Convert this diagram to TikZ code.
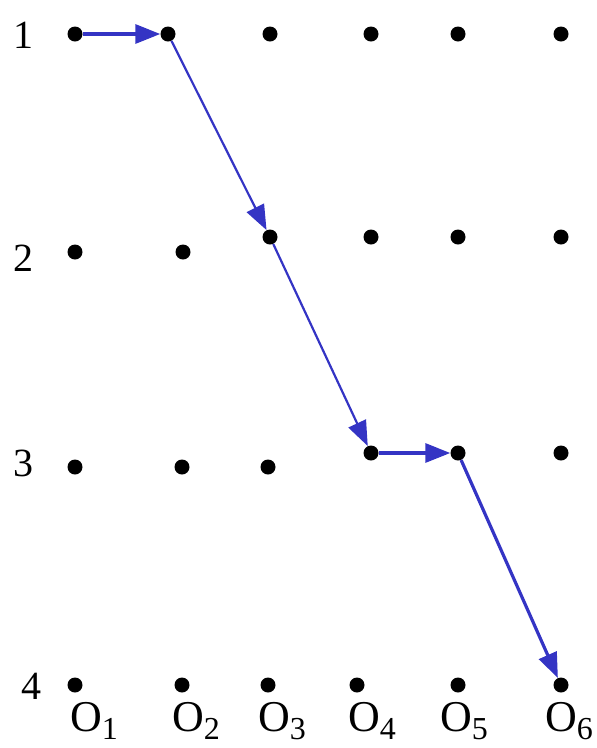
\documentclass[tikz,border=0pt]{standalone}
\usepackage{fontspec}
\setmainfont{Liberation Serif}
\usepackage{xcolor}
\usepackage{tikz}
\usetikzlibrary{arrows.meta,positioning,calc}
\definecolor{pathblue}{RGB}{52,52,196}

\begin{document}
\begin{tikzpicture}[x=1pt, y=-1pt, >={Triangle[length=25pt,width=19pt]},
    dot/.style={circle, fill=black, inner sep=0pt, minimum size=15pt},
    rowlabel/.style={inner sep=0pt, font=\fontsize{40}{40}\selectfont},
    olabel/.style={inner sep=0pt, anchor=base west, font=\fontsize{44}{44}\selectfont},
    move/.style={->, draw=pathblue, fill=pathblue, line width=2.2pt}]
    \useasboundingbox (0,0) rectangle (597,748);

    % row labels
    \node [rowlabel] (row1) at (23,35) {1};
    \node [rowlabel] (row2) at (23,258) {2};
    \node [rowlabel] (row3) at (23,463) {3};
    \node [rowlabel] (row4) at (31,686) {4};

    % grid of dots
    \foreach \c/\x in {1/75, 2/168, 3/270, 4/371, 5/458, 6/561}
        \node [dot] (r1c\c) at (\x,34) {};
    \foreach \c/\x/\y in {1/75/252, 2/183/252, 3/270/237, 4/371/237, 5/458/237, 6/561/237}
        \node [dot] (r2c\c) at (\x,\y) {};
    \foreach \c/\x/\y in {1/75/467, 2/182/467, 3/268/467, 4/371/453, 5/458/453, 6/561/453}
        \node [dot] (r3c\c) at (\x,\y) {};
    \foreach \c/\x in {1/75, 2/182, 3/268, 4/357, 5/458, 6/561}
        \node [dot] (r4c\c) at (\x,685) {};

    % column labels
    \foreach \c/\x in {1/70, 2/172, 3/258, 4/348, 5/440, 6/545}
        \node [olabel] (o\c) at (\x,731) {O\raisebox{-8pt}{\fontsize{32}{32}\selectfont\c}};

    % path through the grid
    \draw [move, line width=3.2pt] (r1c1) -- (r1c2);
    \draw [move, line width=2.2pt] (r1c2) -- (r2c3);
    \draw [move, line width=2.2pt] (r2c3) -- (r3c4);
    \draw [move, line width=3.2pt] (r3c4) -- (r3c5);
    \draw [move, line width=3.2pt] (r3c5) -- (r4c6);
\end{tikzpicture}
\end{document}
